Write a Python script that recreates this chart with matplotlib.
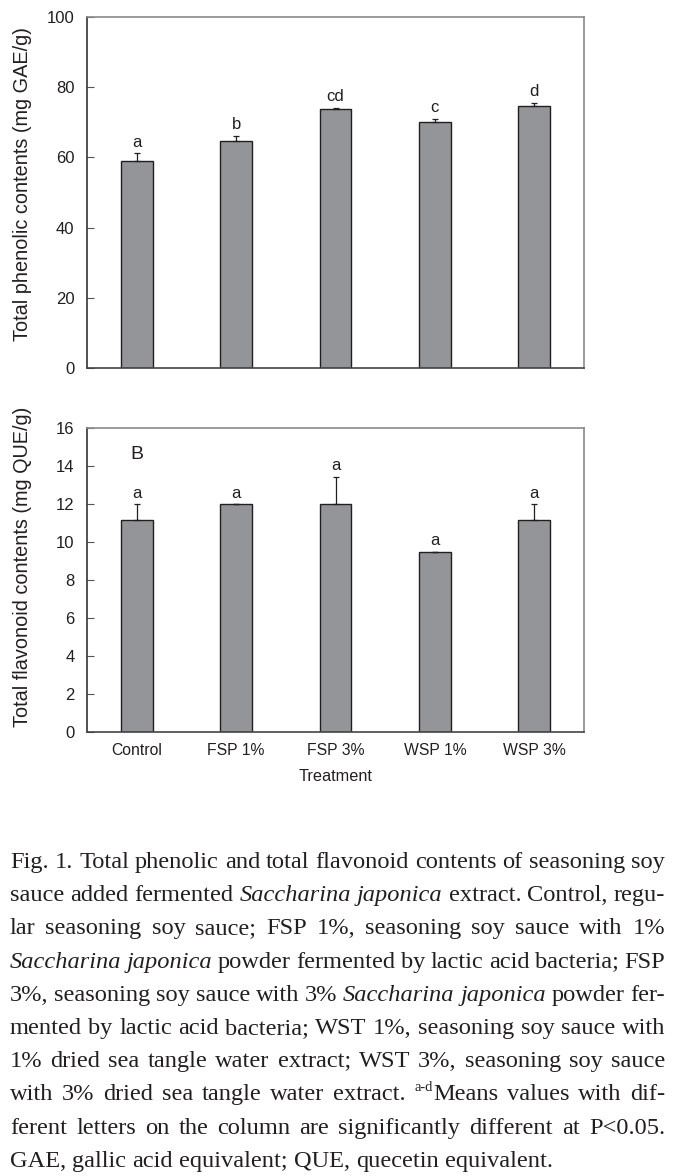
import matplotlib
matplotlib.use("Agg")
import matplotlib.pyplot as plt
import numpy as np

categories = ["Control", "FSP 1%", "FSP 3%", "WSP 1%", "WSP 3%"]
phenolic = [59.0, 64.6, 73.8, 70.2, 74.7]
phenolic_err = [2.2, 1.6, 0.4, 0.8, 0.9]
phenolic_letters = ["a", "b", "cd", "c", "d"]
flavonoid = [11.15, 12.0, 12.0, 9.5, 11.15]
flavonoid_err = [0.85, 0.0, 1.43, 0.0, 0.85]
flavonoid_letters = ["a", "a", "a", "a", "a"]
phenolic_ticks = [0, 20, 40, 60, 80, 100]
flavonoid_ticks = [0, 2, 4, 6, 8, 10, 12, 14, 16]

caption_lines = [
    "Fig. 1. Total phenolic and total flavonoid contents of seasoning soy",
    "sauce added fermented |Saccharina| |japonica| extract. Control, regu-",
    "lar seasoning soy sauce; FSP 1%, seasoning soy sauce with 1%",
    "|Saccharina| |japonica| powder fermented by lactic acid bacteria; FSP",
    "3%, seasoning soy sauce with 3% |Saccharina| |japonica| powder fer-",
    "mented by lactic acid bacteria; WST 1%, seasoning soy sauce with",
    "1% dried sea tangle water extract; WST 3%, seasoning soy sauce",
    "with 3% dried sea tangle water extract. ^a-d^Means values with dif-",
    "ferent letters on the column are significantly different at P<0.05.",
    "GAE, gallic acid equivalent; QUE, quecetin equivalent.",
]

W, H = 675, 1176
fig = plt.figure(figsize=(W / 100, H / 100), dpi=100)
SANS = "Liberation Sans"
SERIF = "Liberation Serif"

BAR = "#939598"
EDGE = "#231f20"
TXT = "#231f20"

def px_axes(l, t, r, b):
    return fig.add_axes([l / W, 1 - b / H, (r - l) / W, (b - t) / H])

def draw_panel(ax, vals, errs, letters, ticks, ylabel, label_y, show_x):
    x = np.arange(1, len(vals) + 1)
    ax.bar(x, vals, width=0.32, color=BAR, edgecolor=EDGE, linewidth=1.0, zorder=2)
    ax.errorbar(x, vals, yerr=[np.zeros(len(errs)), errs], fmt="none",
                ecolor=EDGE, elinewidth=0.9, capsize=2.2, capthick=0.9, zorder=3)
    for xi, v, e, lab in zip(x, vals, errs, letters):
        ax.annotate(lab, (xi, v + e), xytext=(0, 2.5), textcoords="offset points",
                    ha="center", va="bottom", fontsize=12, family=SANS, color=TXT)
    ax.set_xlim(0.5, 5.5)
    ax.set_ylim(ticks[0], ticks[-1])
    ax.set_yticks(ticks)
    ax.set_yticklabels([str(t) for t in ticks], family=SANS, fontsize=12, color=TXT)
    ax.tick_params(axis="y", direction="in", length=5, width=0.8, color="#555555", pad=9, right=False)
    if show_x:
        ax.set_xticks(x)
        ax.set_xticklabels(categories, family=SANS, fontsize=11.3, color=TXT)
        ax.tick_params(axis="x", length=0, pad=8)
        ax.set_xlabel("Treatment", family=SANS, fontsize=11.7, color=TXT, labelpad=8)
    else:
        ax.set_xticks([])
    ax.set_ylabel(ylabel, family=SANS, fontsize=14.3, color=TXT, va="center")
    ax.yaxis.set_label_coords(-0.13, label_y)
    ax.spines["left"].set_color("#333333")
    ax.spines["bottom"].set_color("#444444")
    ax.spines["top"].set_color("#8a8a8a")
    ax.spines["right"].set_color("#8a8a8a")
    for s in ax.spines.values():
        s.set_linewidth(1.2)

ax1 = px_axes(87, 17, 584, 368)
draw_panel(ax1, phenolic, phenolic_err, phenolic_letters, phenolic_ticks,
           "Total phenolic contents (mg GAE/g)", 0.525, False)
ax2 = px_axes(87, 428, 584, 732)
draw_panel(ax2, flavonoid, flavonoid_err, flavonoid_letters, flavonoid_ticks,
           "Total flavonoid contents (mg QUE/g)", 0.545, True)
ax2.text(1.0, 14.6, "B", ha="center", va="center", fontsize=14, family=SANS, color=TXT)

# ---- caption, justified ----
renderer = fig.canvas.get_renderer()

def parse_word(w):
    segs = []
    if w.startswith("^"):
        end = w.index("^", 1)
        segs.append((w[1:end], "sup"))
        w = w[end + 1:]
    if w.startswith("|") and w.endswith("|"):
        segs.append((w[1:-1], "italic"))
    elif w:
        segs.append((w, "normal"))
    return segs

def seg_props(style, fs):
    if style == "italic":
        return dict(family=SERIF, style="italic", fontsize=fs)
    if style == "sup":
        return dict(family=SERIF, fontsize=fs * 0.6)
    return dict(family=SERIF, fontsize=fs)

def width_px(text, props):
    t = fig.text(0, 0, text, **props)
    bb = t.get_window_extent(renderer)
    t.remove()
    return bb.width

def line_natural(line, fs):
    words = [parse_word(w) for w in line.split(" ")]
    ww = []
    for segs in words:
        ww.append(sum(width_px(s, seg_props(st, fs)) for s, st in segs))
    sp = width_px("a a", seg_props("normal", fs)) - width_px("aa", seg_props("normal", fs))
    return words, ww, sp

left_px, right_px = 10, 665
avail = right_px - left_px
fs0 = 16.0
_, ww0, sp0 = line_natural(caption_lines[0], fs0)
nat0 = sum(ww0) + sp0 * (len(ww0) - 1)
fs = fs0 * avail / nat0 * 1.0

base0 = 868
lead = 33.2
for i, line in enumerate(caption_lines):
    words, ww, sp = line_natural(line, fs)
    last = i == len(caption_lines) - 1
    if last or len(words) == 1:
        gap = sp
    else:
        gap = (avail - sum(ww)) / (len(words) - 1)
    x = left_px
    y = base0 + lead * i
    for segs, w in zip(words, ww):
        xs = x
        for s, st in segs:
            props = seg_props(st, fs)
            yy = y - (fs * 0.55 if st == "sup" else 0)
            fig.text(xs / W, 1 - yy / H, s, ha="left", va="baseline",
                     color=TXT, **props)
            xs += width_px(s, props)
        x += w + gap

fig.savefig("out.png", dpi=100)
